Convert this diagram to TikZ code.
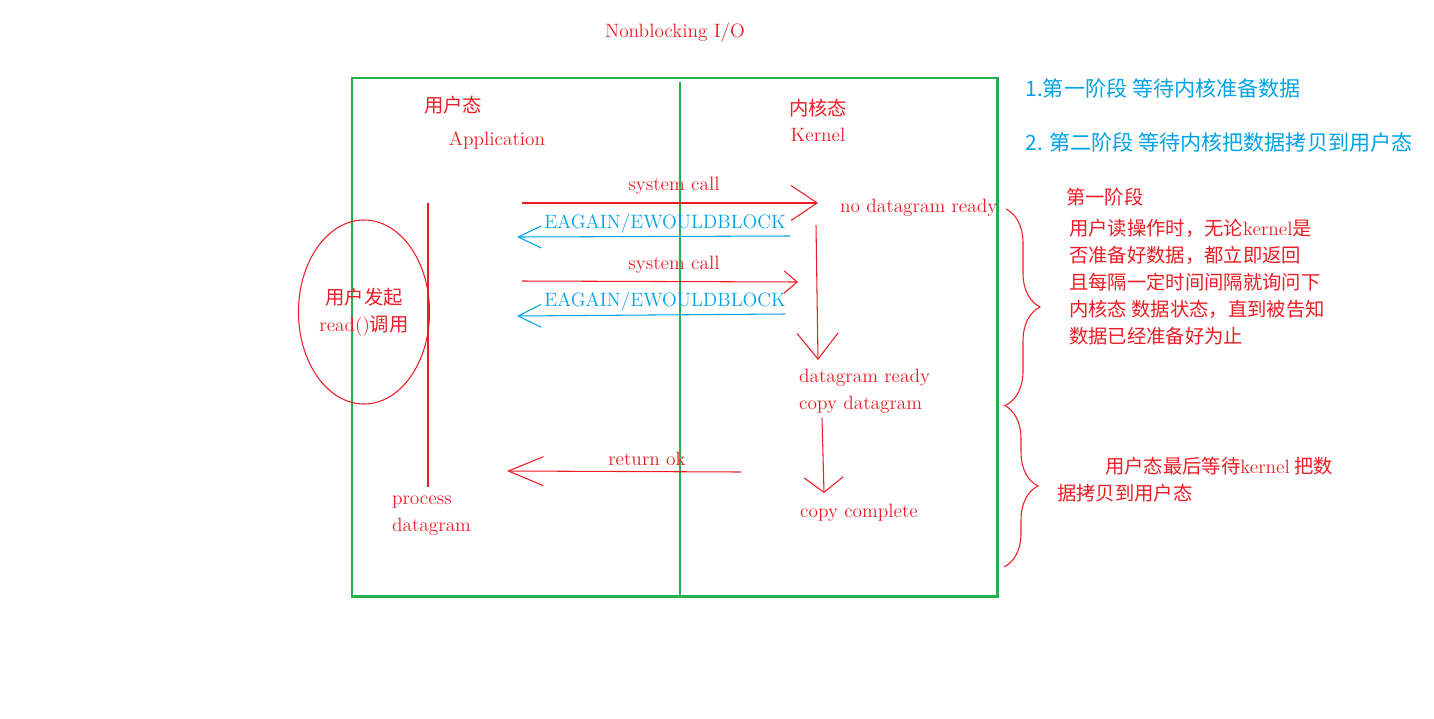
\documentclass[tikz,border=0pt]{standalone}
\usepackage{fontspec}
\newfontfamily\cjk{Noto Sans CJK SC}
\usetikzlibrary{arrows.meta,positioning,shapes.geometric,decorations.pathreplacing}
\definecolor{paintred}{RGB}{237,28,36}
\definecolor{paintgreen}{RGB}{34,177,76}
\definecolor{paintblue}{RGB}{0,162,232}

\begin{document}
\begin{tikzpicture}[
  x=0.2mm, y=-0.2mm,
  lbl/.style={text=paintred, font=\fontsize{11}{15.3}\selectfont, inner sep=1pt},
  cnlbl/.style={lbl, font=\fontsize{11}{15.3}\selectfont\cjk},
  note/.style={text=paintblue, font=\fontsize{12}{14}\selectfont\cjk, anchor=west, inner sep=0pt},
  redline/.style={paintred, line width=0.6pt},
  barb/.style 2 args={redline, -{Straight Barb[length=#1, width=#2]}},
  back/.style 2 args={paintblue, line width=0.6pt, -{Straight Barb[length=#1, width=#2]}},
  curly/.style={redline, decorate, decoration={brace, amplitude=6.8mm}},
  node distance=1mm
]
\useasboundingbox (0,0) rectangle (1434,718);

\node[lbl] (title) at (675,33) {Nonblocking I/O};
\draw[paintgreen, line width=1.7pt] (352,78) rectangle (997,596);
\draw[paintgreen, line width=0.6pt] (680,82) -- (680,598);

\node[cnlbl] (usercn) at (453,105) {用户态};
\node[lbl] (userapp) at (497,140) {Application};
\node[cnlbl] (kerncn) at (818,108) {内核态};
\node[lbl, below=1.3mm of kerncn] (kernel) {Kernel};

\node[note] (note1) at (1025,88) {1.第一阶段 等待内核准备数据};
\node[note, below=10.8mm of note1.west, anchor=west] (note2) {2. 第二阶段 等待内核把数据拷贝到用户态};

\node[cnlbl, draw=paintred, line width=0.6pt, ellipse, align=center,
      minimum width=26.2mm, minimum height=36.8mm] (caller) at (364,312)
  {用户发起\\{\rmfamily read()}调用};
\coordinate (utop) at (428,203);
\coordinate (ubot) at (428,487);
\draw[redline] (utop) -- (ubot);

\node[lbl] (sc1) at (674,186) {system call};
\node[lbl, text=paintblue] (eag1) at (665,224) {EAGAIN/EWOULDBLOCK};
\node[lbl] (sc2) at (674,265) {system call};
\node[lbl, text=paintblue] (eag2) at (665,302) {EAGAIN/EWOULDBLOCK};
\node[lbl, anchor=west] (nodata) at (838,208) {no datagram ready};
\node[lbl, align=left, anchor=west] (dready) at (797,391) {datagram ready\\copy datagram};
\node[lbl, anchor=west] (cdone) at (798,513) {copy complete};
\node[lbl] (retok) at (647,459) {return ok};
\node[lbl, align=left, anchor=west] (proc) at (390,516) {process\\datagram};

\coordinate (call1) at (522,203);
\coordinate (hit1) at (818,203);
\coordinate (ret1) at (790,236);
\coordinate (back1) at (517,237);
\coordinate (call2) at (522,281);
\coordinate (hit2) at (798,282);
\coordinate (ret2) at (785,314);
\coordinate (back2) at (517,316);
\coordinate (wait) at (816,225);
\coordinate (gotit) at (818,360);
\coordinate (copy) at (822,418);
\coordinate (copied) at (824,493);
\coordinate (okfrom) at (741,472);
\coordinate (okto) at (507,471);

\draw[barb={5.2mm}{7mm}] (call1) -- (hit1);
\draw[back={4.6mm}{4.4mm}] (ret1) -- (back1);
\draw[barb={2.6mm}{4.4mm}] (call2) -- (hit2);
\draw[back={4.6mm}{4.6mm}] (ret2) -- (back2);
\draw[barb={5.2mm}{8.2mm}] (wait) -- (gotit);
\draw[barb={3mm}{7.8mm}] (copy) -- (copied);
\draw[barb={7mm}{5.8mm}] (okfrom) -- (okto);

\node[cnlbl, anchor=west] (stage1) at (1064,197) {第一阶段};
\node[cnlbl, align=left, anchor=west] (stage1txt) at (1067,282)
  {用户读操作时，无论{\rmfamily kernel}是\\否准备好数据，都立即返回\\且每隔一定时间间隔就询问下\\内核态 数据状态，直到被告知\\数据已经准备好为止};
\node[cnlbl, align=left, anchor=west] (stage2txt) at (1055,480)
  {\hspace*{9.6mm}用户态最后等待{\rmfamily kernel} 把数\\据拷贝到用户态};

\draw[curly] (1006,209) -- (1006,405);
\draw[curly] (1004,405) -- (1004,567);
\end{tikzpicture}
\end{document}
